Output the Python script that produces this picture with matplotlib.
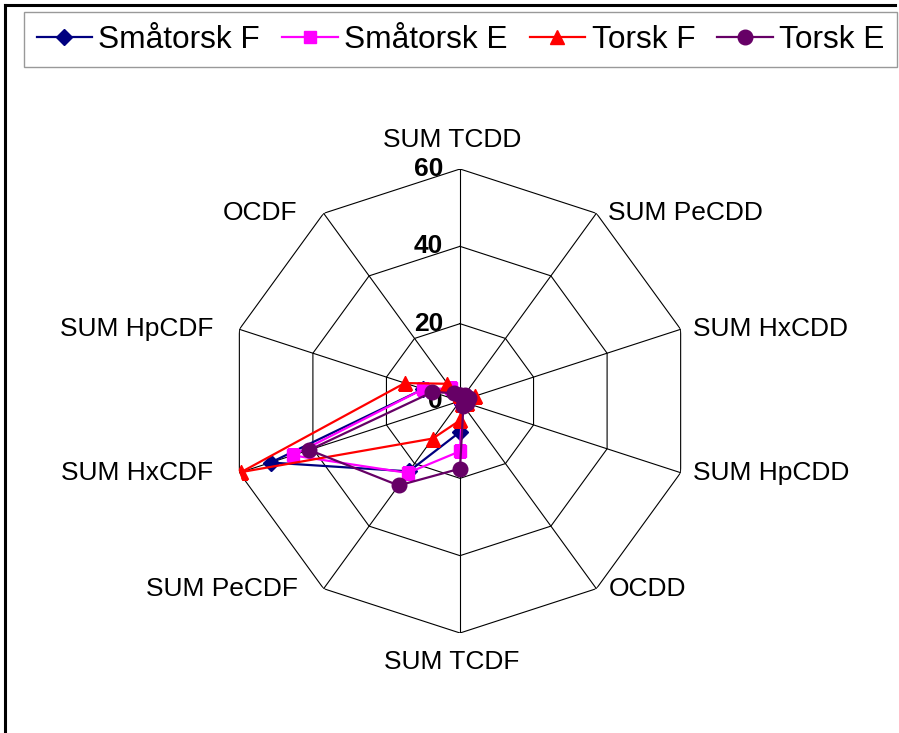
import numpy as np
import matplotlib
matplotlib.use("Agg")
from matplotlib import pyplot as plt
from matplotlib.lines import Line2D

plt.rcParams["font.family"] = ["Liberation Sans", "DejaVu Sans"]

categories = ["SUM TCDD", "SUM PeCDD", "SUM HxCDD", "SUM HpCDD", "OCDD",
              "SUM TCDF", "SUM PeCDF", "SUM HxCDF", "SUM HpCDF", "OCDF"]
smatorsk_f = [1.0, 1.0, 1.5, 1.0, 1.0, 8.0, 22.5, 51.5, 10.0, 3.0]
smatorsk_e = [1.0, 1.0, 1.5, 1.0, 1.0, 13.0, 23.0, 45.5, 10.0, 4.0]
torsk_f = [1.5, 2.0, 4.0, 2.0, 1.0, 5.0, 12.0, 59.5, 15.0, 5.5]
torsk_e = [1.5, 2.0, 2.5, 2.0, 1.5, 17.5, 27.0, 41.0, 7.5, 2.5]
ring_values = [0, 20, 40, 60]

series = [
    ("Småtorsk F", smatorsk_f, "#000080", "D", 8),
    ("Småtorsk E", smatorsk_e, "#FF00FF", "s", 9),
    ("Torsk F", torsk_f, "#FF0000", "^", 10),
    ("Torsk E", torsk_e, "#660066", "o", 10.5),
]

W, H = 899, 733
fig = plt.figure(figsize=(W / 100, H / 100), dpi=100)
fig.patch.set_facecolor("white")

# polar axes placed so the centre sits at (460, 401) px with radius 232 px
cx, cy, R = 460, 401, 232
ax = fig.add_axes([(cx - R) / W, (H - cy - R) / H, 2 * R / W, 2 * R / H],
                  projection="polar")
ax.set_theta_zero_location("N")
ax.set_theta_direction(-1)
ax.set_ylim(0, 60)
ax.grid(False)
ax.spines["polar"].set_visible(False)
ax.set_xticks([])
ax.set_yticks([])
ax.patch.set_alpha(0)

n = len(categories)
theta = np.arange(n) * 2 * np.pi / n
theta_c = np.append(theta, theta[0])

# decagon grid
for v in ring_values[1:]:
    ax.plot(theta_c, [v] * (n + 1), color="black", lw=0.8, zorder=1)
for t in theta:
    ax.plot([t, t], [0, ring_values[-1]], color="black", lw=0.8, zorder=1)

for name, vals, col, mk, ms in series:
    ax.plot(theta_c, list(vals) + [vals[0]], color=col, lw=1.6, marker=mk,
            markersize=ms, markeredgecolor=col, label=name, zorder=3)

# ring tick labels
for v in ring_values:
    ax.annotate(str(v), xy=(0, v), xytext=(-17, 0), textcoords="offset pixels",
                ha="right", va="center", fontsize=19, fontweight="bold",
                annotation_clip=False, zorder=2)

# category labels
for t, lab in zip(theta, categories):
    s = np.sin(t)
    c = np.cos(t)
    if abs(s) < 1e-6:
        off = (-8, 29 if c > 0 else -29)
        ha = "center"
    elif s > 0:
        off = (12, 0)
        ha = "left"
    else:
        off = (-26, 0)
        ha = "right"
    ax.annotate(lab, xy=(t, 60), xytext=off, textcoords="offset pixels",
                ha=ha, va="center", fontsize=19, annotation_clip=False)

# legend
handles, labels = ax.get_legend_handles_labels()
leg = fig.legend(handles, labels, loc="upper left", ncol=4,
                 bbox_to_anchor=(24 / W, 1 - 12 / H),
                 borderaxespad=0, fontsize=22.8, frameon=True, fancybox=False,
                 handlelength=1.75, handletextpad=0.2, columnspacing=0.7,
                 borderpad=0.4)
leg.get_frame().set_edgecolor("#808080")
leg.get_frame().set_linewidth(1.0)

# outer frame (left and top edges)
fig.add_artist(Line2D([5 / W, 5 / W], [0, 1 - 5 / H], transform=fig.transFigure,
                      color="black", lw=2.2))
fig.add_artist(Line2D([5 / W, 895 / W], [1 - 5 / H, 1 - 5 / H],
                      transform=fig.transFigure, color="black", lw=2.2))

fig.savefig("out.png", dpi=100)
